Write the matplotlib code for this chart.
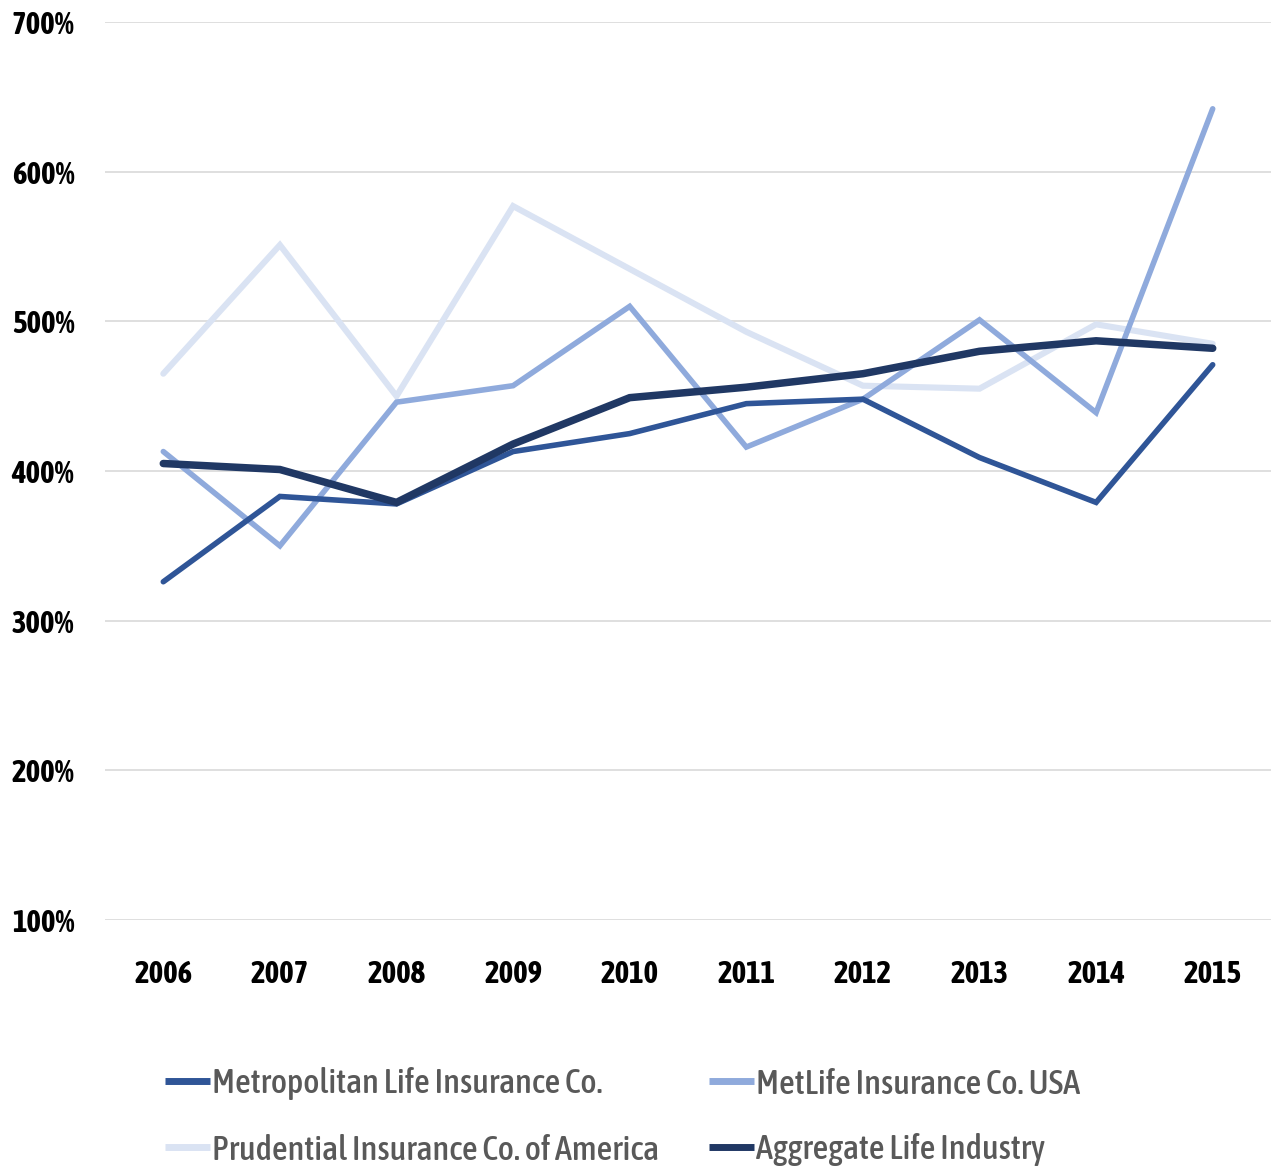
import matplotlib
matplotlib.use("Agg")
import matplotlib.pyplot as plt
from matplotlib.ticker import FuncFormatter
from matplotlib import font_manager

years = ["2006", "2007", "2008", "2009", "2010", "2011", "2012", "2013", "2014", "2015"]
metropolitan = [326, 383, 378, 413, 425, 445, 448, 409, 379, 471]
metlife_usa = [413, 350, 446, 457, 510, 416, 448, 501, 439, 642]
prudential = [465, 551, 450, 577, 535, 493, 457, 455, 498, 485]
aggregate = [405, 401, 379, 418, 449, 456, 465, 480, 487, 482]

series_names = ["Metropolitan Life Insurance Co.", "MetLife Insurance Co. USA",
                "Prudential Insurance Co. of America", "Aggregate Life Industry"]
series_values = [metropolitan, metlife_usa, prudential, aggregate]
colors = ["#2F5597", "#8FAADC", "#DAE3F3", "#203864"]
widths = [4.0, 4.0, 4.4, 5.4]
zorders = [4, 3, 2, 5]

y_ticks = [100, 200, 300, 400, 500, 600, 700]

available = {f.name for f in font_manager.fontManager.ttflist}
FONT = next((f for f in ["Asap Condensed", "Barlow Condensed", "Archivo Narrow", "Liberation Sans"]
             if f in available), "DejaVu Sans")
plt.rcParams['font.family'] = [FONT, 'DejaVu Sans']

W, H = 1277, 1173
fig = plt.figure(figsize=(W / 100, H / 100), dpi=100)
ax = fig.add_axes([105 / W, 1 - 920 / H, (1271 - 105) / W, (920 - 22) / H])

x = list(range(len(years)))
handles = []
for name, vals, c, lw, z in zip(series_names, series_values, colors, widths, zorders):
    h, = ax.plot(x, vals, color=c, lw=lw, zorder=z, label=name,
                 solid_capstyle='round', solid_joinstyle='miter')
    handles.append(h)

ax.set_xlim(-0.5, len(years) - 0.5)
ax.set_ylim(100, 700)
ax.set_yticks(y_ticks)
ax.yaxis.set_major_formatter(FuncFormatter(lambda v, p: f"{int(v)}%"))
ax.set_xticks(x)
ax.set_xticklabels(years)
ax.grid(axis='y', color='#D9D9D9', lw=1.2, zorder=0)
ax.set_axisbelow(True)
for s in ax.spines.values():
    s.set_visible(False)

renderer = fig.canvas.get_renderer()

# fit tick font size so that "2015" is ~58 px wide
probe = fig.text(0, 0, "2015", fontsize=20, fontweight='bold')
wpx = probe.get_window_extent(renderer).width
tick_fs = 20 * 58 / wpx
probe.remove()

ax.tick_params(axis='both', length=0, labelsize=tick_fs, labelcolor='black')
ax.tick_params(axis='y', pad=22)
ax.tick_params(axis='x', pad=28)
for lab in ax.get_xticklabels() + ax.get_yticklabels():
    lab.set_fontweight('bold')

# fit legend font so "Metropolitan Life Insurance Co." is ~390 px wide
probe = fig.text(0, 0, series_names[0], fontsize=20, fontweight='medium')
wpx = probe.get_window_extent(renderer).width
leg_fs = 20 * 390 / wpx
probe.remove()
fs_px = leg_fs * 100 / 72

probe = fig.text(0, 0, series_names[2], fontsize=leg_fs, fontweight='medium')
th = probe.get_window_extent(renderer).height
probe.remove()

order = [0, 2, 1, 3]  # row-wise fill: row1 = Metropolitan, MetLife; row2 = Prudential, Aggregate
leg = fig.legend(handles=[handles[i] for i in order], labels=[series_names[i] for i in order],
                 ncol=2, loc='upper left',
                 bbox_to_anchor=(165 / W, 1 - (1084 - th / 2) / H),
                 frameon=False, handlelength=45 / fs_px,
                 handletextpad=2 / fs_px, columnspacing=50 / fs_px,
                 labelspacing=(66 - th) / fs_px,
                 borderaxespad=0, borderpad=0,
                 prop={'size': leg_fs, 'weight': 'medium'})
for t in leg.get_texts():
    t.set_color('#595959')
for lh in leg.legend_handles:
    lh.set_linewidth(5.0)
    lh.set_solid_capstyle('butt')

fig.savefig("out.png", dpi=100, facecolor='white')
